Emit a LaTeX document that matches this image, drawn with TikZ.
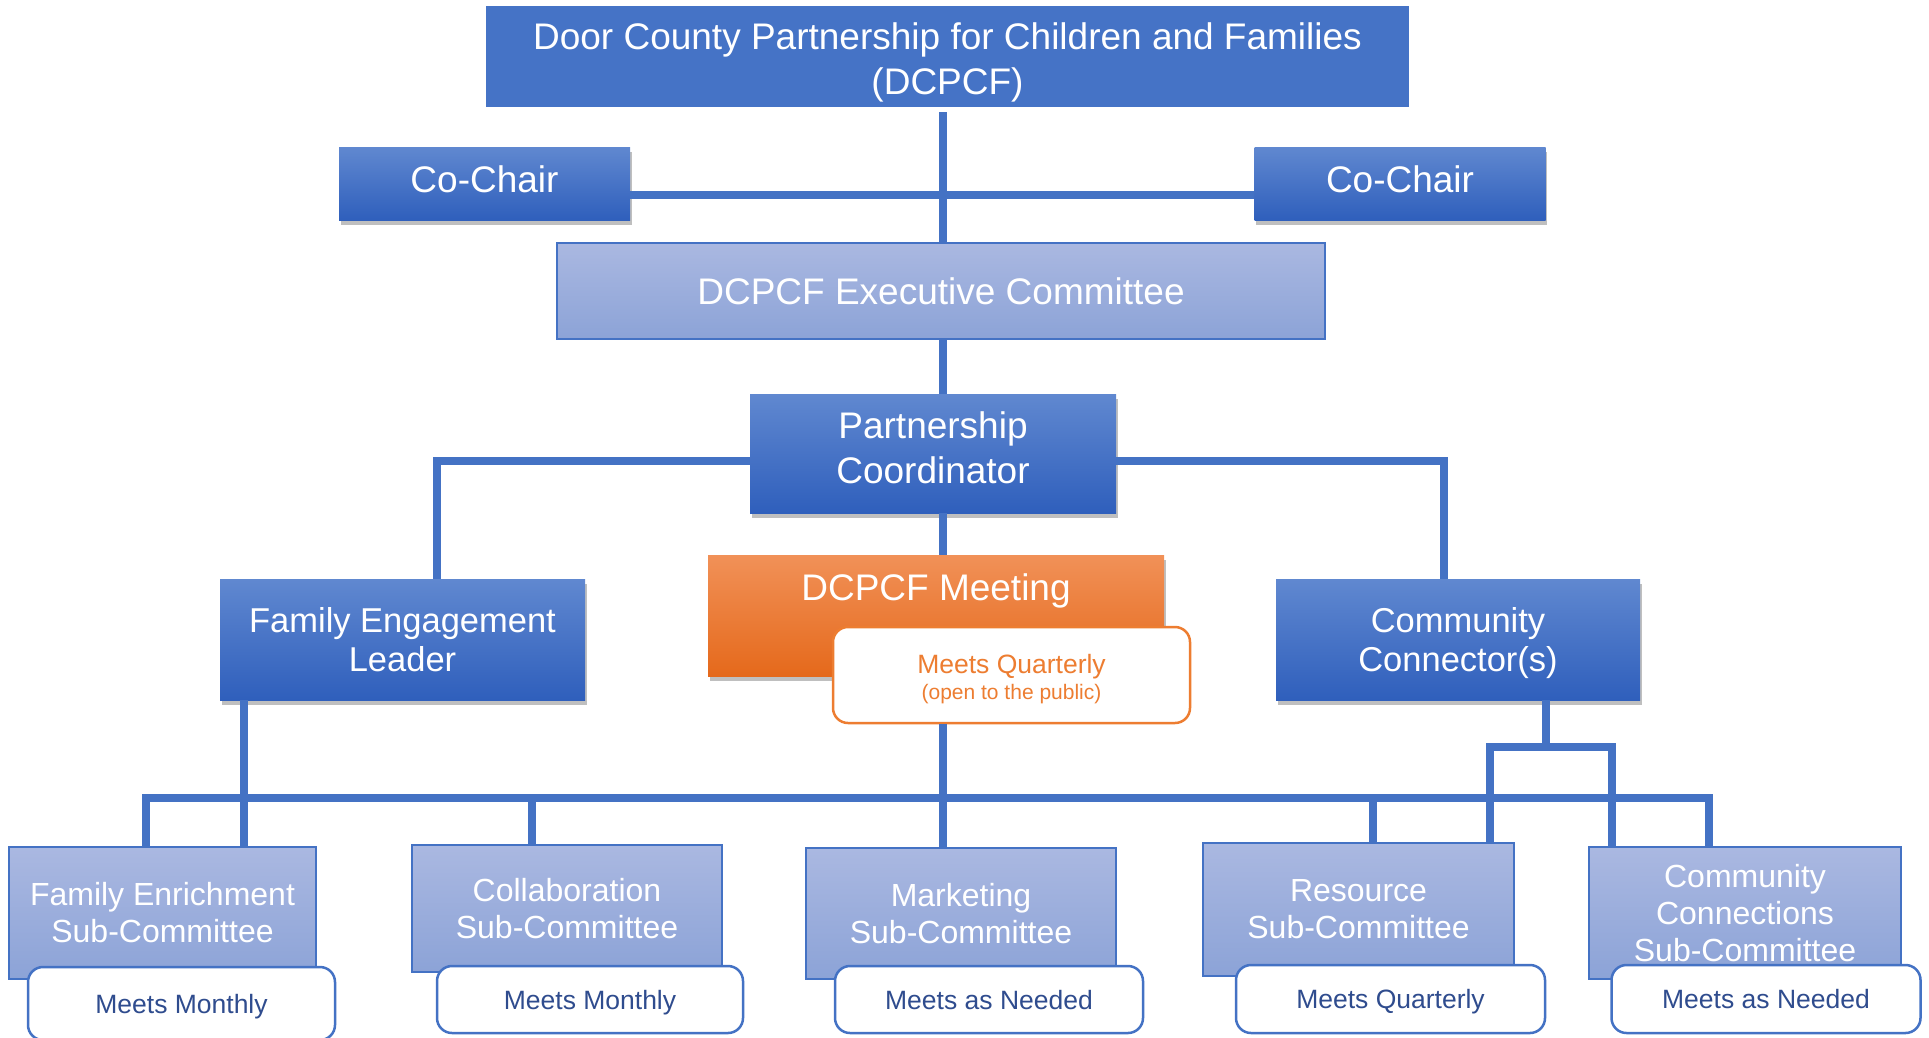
\documentclass[tikz,border=0pt]{standalone}
\usepackage{fontspec}
\setmainfont{Liberation Sans}
\usetikzlibrary{shadows}
\definecolor{lineblue}{HTML}{4472C4}
\definecolor{topblue}{HTML}{4573C6}
\definecolor{darkA}{HTML}{6088D0}
\definecolor{darkB}{HTML}{2F5FBC}
\definecolor{liteA}{HTML}{AAB8E1}
\definecolor{liteB}{HTML}{8CA3D7}
\definecolor{orA}{HTML}{F19158}
\definecolor{orB}{HTML}{E5691B}
\definecolor{orline}{HTML}{ED7D31}
\definecolor{meetblue}{HTML}{2F4C8E}
\begin{document}
\begin{tikzpicture}[x=1pt,y=-1pt,
  conn/.style={draw=lineblue,line width=7.5pt},
  base/.style={inner sep=0pt,align=center,text=white},
  txt/.style={inner sep=0pt,align=center,text=white},
  shad/.style={drop shadow={shadow xshift=1.5pt,shadow yshift=-5pt,opacity=0.25,fill=black}},
  darkbox/.style={base,top color=darkA,bottom color=darkB,shad},
  litebox/.style={base,top color=liteA,bottom color=liteB,draw=lineblue,line width=1.2pt},
  meetbox/.style={inner sep=0pt,align=center,fill=white,draw=lineblue,line width=2.5pt,rounded corners=15pt,text=meetblue,font=\fontsize{26.5}{30}\selectfont,text height=19pt,text depth=0pt},
  bigf/.style={font=\fontsize{37}{45}\selectfont},
  midf/.style={font=\fontsize{34.5}{39}\selectfont},
  subf/.style={font=\fontsize{32}{37}\selectfont}
]
\useasboundingbox (0,0) rectangle (1929,1037);
% reference x positions
\coordinate (spine) at (943,0);
\coordinate (xfe) at (437,0);
\coordinate (xcc) at (1444,0);
\coordinate (d1) at (244,0);
\coordinate (d2) at (532,0);
\coordinate (d4) at (1373,0);
\coordinate (d5) at (1546,0);
\coordinate (busL) at (146,798);
\coordinate (busR) at (1709,798);
\coordinate (forkL) at (1490,747);
\coordinate (forkR) at (1612,747);

% boxes
\node[base,fill=topblue,minimum width=923pt,minimum height=101pt] (top) at (947.5,56.5) {};
\node[txt,bigf] (toptxt) at ([yshift=-6pt]top.center) {Door County Partnership for Children and Families\\(DCPCF)};
\node[darkbox,bigf,minimum width=291pt,minimum height=73pt,text height=27pt,text depth=10pt] (chairL) at (484.5,183.5) {Co-Chair};
\node[darkbox,bigf,minimum width=291pt,minimum height=73pt,text height=27pt,text depth=10pt] (chairR) at (1400,183.5) {Co-Chair};
\node[litebox,bigf,minimum width=768pt,minimum height=96pt] (exec) at (941,291) {DCPCF Executive Committee};
\node[darkbox,minimum width=366pt,minimum height=119pt] (coord) at (933,453.5) {};
\node[txt,bigf] (coordtxt) at ([yshift=6pt]coord.center) {Partnership\\Coordinator};
\node[darkbox,midf,minimum width=365pt,minimum height=121pt] (fe) at (402.5,639.5) {Family Engagement\\Leader};
\node[darkbox,minimum width=364pt,minimum height=121pt] (cc) at (1458,639.5) {};
\node[txt,midf] (cctxt) at ([yshift=-4pt]cc.center) {Community\\Connector(s)};
\node[base,top color=orA,bottom color=orB,shad,minimum width=456pt,minimum height=121pt] (meeting) at (936,615.5) {};
\node[txt,bigf] (meetingtxt) at (936,591) {DCPCF Meeting};

% connectors
\draw[conn] ([yshift=-5pt]top.south -| spine) -- (spine |- exec.north);
\draw[conn] ([yshift=-11.5pt]chairL.east) -- ([yshift=-11.5pt]chairR.west);
\draw[conn] (spine |- exec.south) -- (spine |- coord.north);
\draw[conn] (spine |- coord.south) -- (spine |- meeting.north);
\draw[conn] ([yshift=-7.5pt]coord.west) -| (xfe |- fe.north);
\draw[conn] ([yshift=-7.5pt]coord.east) -| (xcc |- cc.north);

\node[inner sep=0pt,fill=white,draw=orline,line width=2.5pt,rounded corners=15pt,minimum width=357pt,minimum height=96pt] (mq) at (1011.5,675) {};
\node[inner sep=0pt,align=center,text=orline,font=\fontsize{26.5}{30}\selectfont] (mqtxt) at ([yshift=-4pt]mq.center) {Meets Quarterly\\[-4pt]{\fontsize{21}{24}\selectfont (open to the public)}};

\node[litebox,subf,minimum width=307pt,minimum height=132pt] (fenr) at (162.5,913) {Family Enrichment\\Sub-Committee};
\node[litebox,subf,minimum width=310pt,minimum height=127pt] (collab) at (567,908.5) {Collaboration\\Sub-Committee};
\node[litebox,subf,minimum width=310pt,minimum height=131pt] (mkt) at (961,913.5) {Marketing\\Sub-Committee};
\node[litebox,subf,minimum width=311pt,minimum height=133pt] (res) at (1358.5,909.5) {Resource\\Sub-Committee};
\node[litebox,subf,minimum width=312pt,minimum height=132pt] (cconn) at (1745,913) {Community\\Connections\\Sub-Committee};

\draw[conn] (busL |- fenr.north) -- (busL) -- (busR) -- (busR |- cconn.north);
\draw[conn] (d1 |- fe.south) -- (d1 |- fenr.north);
\draw[conn] (d2 |- busL) -- (d2 |- collab.north);
\draw[conn] (spine |- mq.south) -- (spine |- mkt.north);
\draw[conn] (d4 |- busL) -- (d4 |- res.north);
\draw[conn] (d5 |- cc.south) -- (d5 |- forkL);
\draw[conn] (forkL |- res.north) -- (forkL) -- (forkR) -- (forkR |- cconn.north);

\node[meetbox,minimum width=307pt,minimum height=73pt] (m1) at (181.5,1003.5) {Meets Monthly};
\node[meetbox,minimum width=306pt,minimum height=67pt] (m2) at (590,999.5) {Meets Monthly};
\node[meetbox,minimum width=308pt,minimum height=67pt] (m3) at (989,999.5) {Meets as Needed};
\node[meetbox,minimum width=309pt,minimum height=68pt] (m4) at (1390.5,999) {Meets Quarterly};
\node[meetbox,minimum width=309pt,minimum height=68pt] (m5) at (1766,999) {Meets as Needed};
\end{tikzpicture}
\end{document}
